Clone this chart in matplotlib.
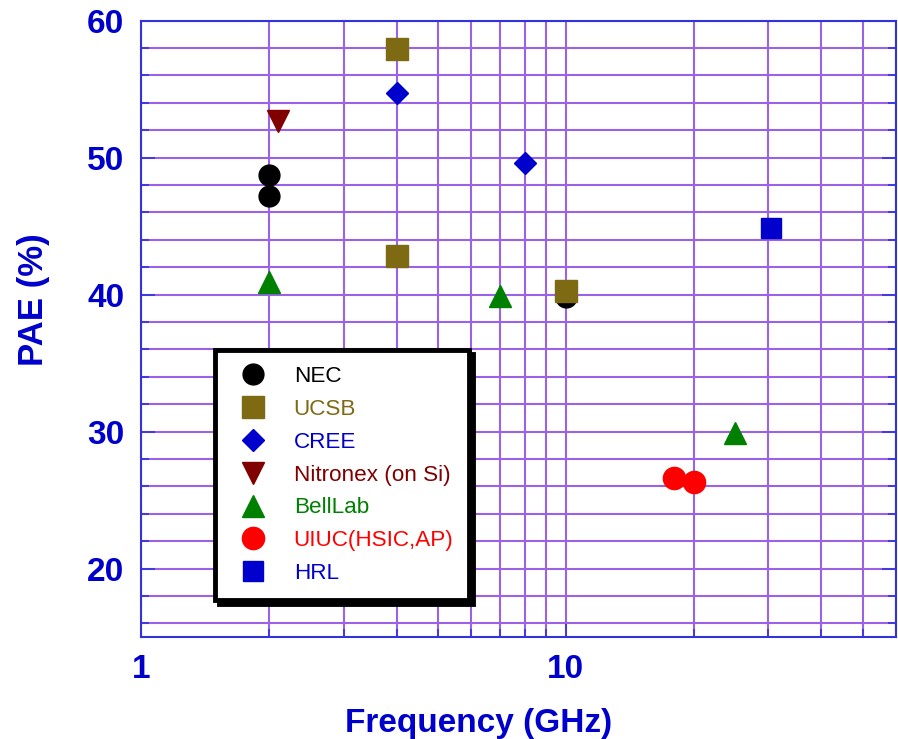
import matplotlib.pyplot as plt
from matplotlib.ticker import FixedLocator, NullFormatter

plt.rcParams["font.family"] = ["Liberation Sans", "DejaVu Sans"]

# data (frequency in GHz, PAE in %)
nec_f = [2, 2, 10]
nec_pae = [48.7, 47.2, 39.8]
ucsb_f = [4, 4, 10]
ucsb_pae = [57.9, 42.8, 40.3]
cree_f = [4, 8]
cree_pae = [54.7, 49.6]
nitronex_f = [2.1]
nitronex_pae = [52.7]
bell_f = [2, 7, 25]
bell_pae = [40.9, 39.9, 29.9]
uiuc_f = [18, 20]
uiuc_pae = [26.6, 26.3]
hrl_f = [30.5]
hrl_pae = [44.9]

series = [
    ("NEC", nec_f, nec_pae, "o", "black", 15),
    ("UCSB", ucsb_f, ucsb_pae, "s", "#7f6a14", 16),
    ("CREE", cree_f, cree_pae, "D", "#0000cc", 11.5),
    ("Nitronex (on Si)", nitronex_f, nitronex_pae, "v", "#800000", 16),
    ("BellLab", bell_f, bell_pae, "^", "#008000", 16),
    ("UIUC(HSIC,AP)", uiuc_f, uiuc_pae, "o", "#ff0000", 16),
    ("HRL", hrl_f, hrl_pae, "s", "#0000cc", 14),
]

axis_blue = "#0000cc"
spine_blue = "#3333dd"
grid_purple = "#9a62e6"

fig = plt.figure(figsize=(8.98, 7.39), dpi=100)
ax = fig.add_axes([0.157, 0.138, 0.841, 0.834])

ax.set_xscale("log")
ax.set_xlim(1, 60)
ax.set_ylim(15, 60)

xgrid = [1, 2, 3, 4, 5, 6, 7, 8, 9, 10, 20, 30, 40, 50, 60]
ygrid = list(range(16, 61, 2))
ax.xaxis.set_major_locator(FixedLocator([1, 10]))
ax.xaxis.set_minor_locator(FixedLocator(xgrid))
ax.xaxis.set_minor_formatter(NullFormatter())
ax.set_xticklabels(["1", "10"])
ax.yaxis.set_major_locator(FixedLocator([20, 30, 40, 50, 60]))
ax.yaxis.set_minor_locator(FixedLocator(ygrid))

ax.grid(True, which="both", color=grid_purple, lw=1.5, zorder=0)
ax.set_axisbelow(True)
for s in ax.spines.values():
    s.set_color(spine_blue)
    s.set_linewidth(1.5)

ax.tick_params(which="both", direction="in", color=spine_blue, right=True,
               labelsize=24, labelcolor=axis_blue, width=1.2)
ax.tick_params(which="major", length=10, pad=12)
ax.tick_params(which="minor", length=6)
for lab in ax.get_xticklabels() + ax.get_yticklabels():
    lab.set_fontweight("bold")

for name, f, pae, m, c, ms in series:
    ax.plot(f, pae, ls="none", marker=m, color=c, ms=ms, label=name,
            zorder=3, clip_on=False)

ax.set_xlabel("Frequency (GHz)", fontsize=24, fontweight="bold",
              color=axis_blue, labelpad=16)
ax.xaxis.set_label_coords(0.447, -0.115)
ax.set_ylabel("PAE (%)", fontsize=25, fontweight="bold",
              color=axis_blue)
ax.yaxis.set_label_coords(-0.121, 0.547)

leg = ax.legend(loc="lower left", bbox_to_anchor=(0.098, 0.06),
                borderaxespad=0, fontsize=16.2, numpoints=1, fancybox=False,
                labelspacing=0.53, handlelength=2.0, handletextpad=0.8,
                borderpad=0.7, framealpha=1,
                shadow={"ox": 3, "oy": -3, "color": "black", "alpha": 1})
leg.get_frame().set_edgecolor("black")
leg.get_frame().set_linewidth(3.5)
for txt, (_, _, _, _, c, _) in zip(leg.get_texts(), series):
    txt.set_color(c)
leg.set_zorder(5)

fig.savefig("out.png", dpi=100)
